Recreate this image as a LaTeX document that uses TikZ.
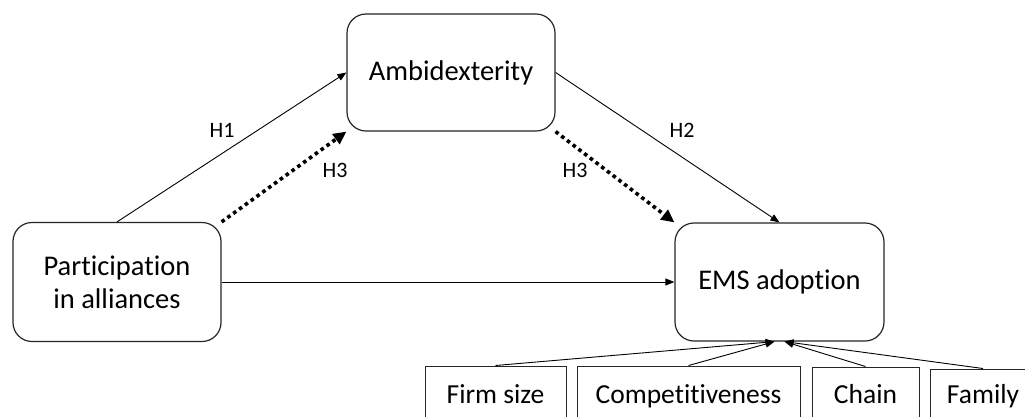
\documentclass[tikz,border=0pt]{standalone}
\usepackage{fontspec}
\setmainfont{Carlito}[Ligatures=NoCommon]
\usetikzlibrary{arrows.meta}
\begin{document}
\begin{tikzpicture}[x=1pt,y=-1pt,
  mainbox/.style={draw=black!85, line width=1.2pt, rounded corners=19pt, inner sep=0pt,
    font=\fontsize{28.5}{33}\selectfont, align=center},
  ctrlbox/.style={draw=black!85, line width=1pt, inner sep=0pt,
    font=\fontsize{27.5}{33}\selectfont, text height=20pt, text depth=4pt},
  thinarrow/.style={line width=0.9pt, -{Triangle[length=9pt,width=7pt]}},
  dotarrow/.style={line width=3.6pt, dash pattern=on 3.6pt off 3.6pt, -{Triangle[length=13pt,width=12pt]}},
  hlabel/.style={font=\fontsize{22}{26}\selectfont, inner sep=0pt}
]
\useasboundingbox (0,0) rectangle (1025,416);
\clip (0,0) rectangle (1025,416);
\fill[white] (0,0) rectangle (1025,416);

\node[mainbox, minimum width=208pt, minimum height=119pt] (part) at (117,282) {Participation\\in alliances};
\node[mainbox, minimum width=208pt, minimum height=117pt] (ambi) at (451,72.5) {Ambidexterity};
\node[mainbox, minimum width=209pt, minimum height=118pt] (ems) at (779.5,282) {EMS adoption};

\node[ctrlbox, minimum width=141pt, minimum height=58pt] (fs) at (495.5,395) {Firm size};
\node[ctrlbox, minimum width=223pt, minimum height=58pt] (comp) at (688.5,395) {Competitiveness};
\node[ctrlbox, minimum width=107pt, minimum height=56pt] (chain) at (865.5,395) {Chain};
\node[ctrlbox, minimum width=106pt, minimum height=52pt] (fam) at (983,395) {Family};

\coordinate (emsL) at ([xshift=-5pt]ems.south);
\coordinate (emsR) at ([xshift=5pt]ems.south);

\draw[thinarrow] (part.north) -- (ambi.west);
\draw[dotarrow] (part.north east) -- (ambi.south west);
\draw[thinarrow] (ambi.east) -- (ems.north);
\draw[dotarrow] (ambi.south east) -- (ems.north west);
\draw[thinarrow] (part.east) -- (ems.west);

\draw[thinarrow] (fs.north) -- (emsL);
\draw[thinarrow] (comp.north) -- (emsL);
\draw[thinarrow] (chain.north) -- (emsR);
\draw[thinarrow] (fam.north) -- (emsR);

\node[hlabel] (h1) at (222,130) {H1};
\node[hlabel] (h3a) at (335,170) {H3};
\node[hlabel] (h2) at (682,130) {H2};
\node[hlabel] (h3b) at (575,170) {H3};
\end{tikzpicture}
\end{document}
